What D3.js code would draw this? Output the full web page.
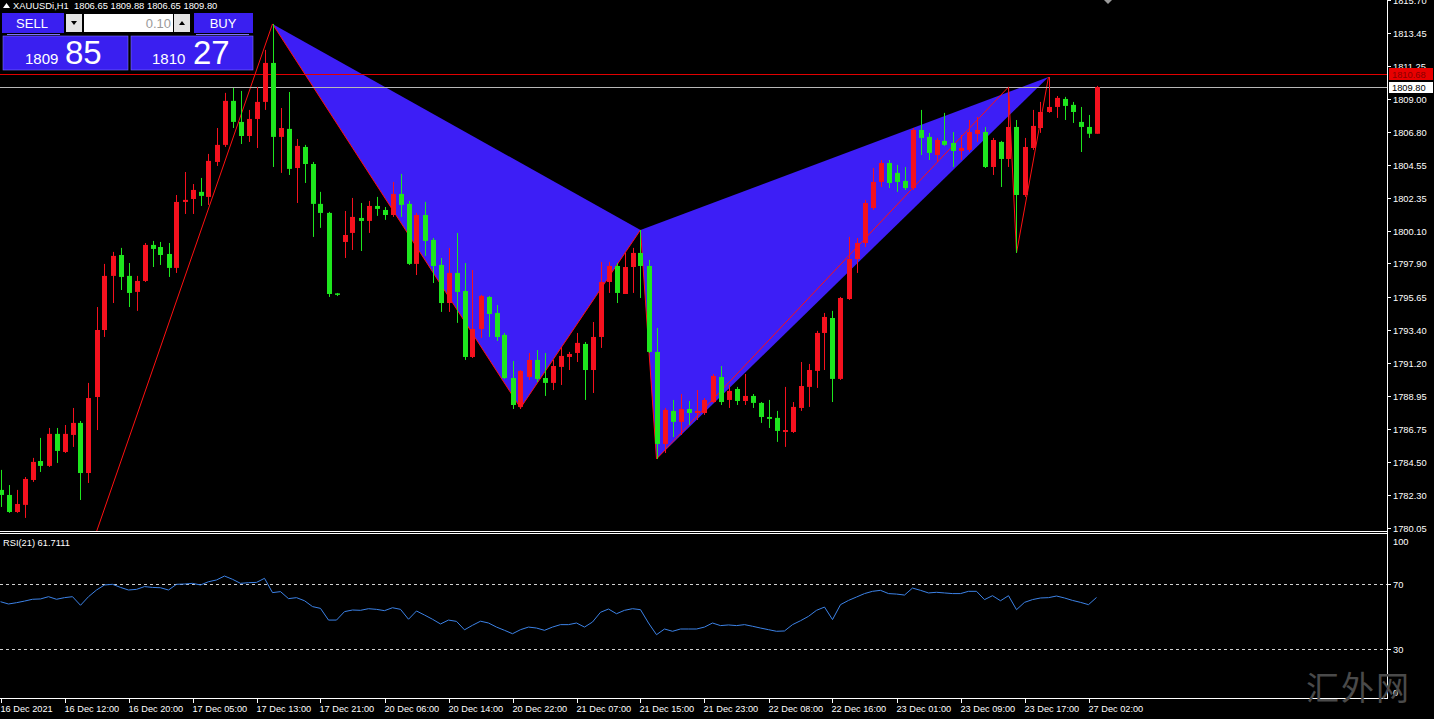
<!DOCTYPE html>
<html><head><meta charset="utf-8">
<script src="https://cdn.jsdelivr.net/npm/d3@7/dist/d3.min.js"></script>
<style>html,body{margin:0;padding:0;background:#000;overflow:hidden}svg{display:block}</style>
</head><body>
<script>
// ---------------- DATA ----------------
const symbolTitle = "XAUUSDi,H1  1806.65 1809.88 1806.65 1809.80";
const openP = [
1782.62,1782.28,1781.13,1781.61,1783.29,1784.57,1784.24,1786.40,1785.18,1786.33,
1787.14,1783.76,1788.89,1793.41,1797.06,1798.47,1797.06,1795.98,1796.72,1799.15,
1799.01,1798.54,1797.60,1802.05,1802.25,1802.73,1802.39,1804.75,1805.90,1808.87,
1807.45,1806.50,1807.65,1808.80,1811.43,1806.44,1806.98,1804.34,1805.76,1804.61,
1801.92,1801.31,1795.88,1799.35,1799.96,1800.97,1800.77,1801.78,1801.51,1801.17,
1802.59,1801.92,1797.87,1801.17,1799.49,1797.80,1795.23,1797.26,1796.04,1791.59,
1793.48,1795.64,1794.56,1793.08,1790.17,1788.22,1790.24,1791.39,1790.17,1789.84,
1790.92,1791.59,1791.86,1792.47,1790.71,1792.94,1796.65,1797.73,1795.84,1797.66,
1798.61,1797.73,1791.93,1785.72,1787.95,1787.21,1788.08,1787.81,1787.81,1788.55,
1790.24,1788.69,1789.43,1788.62,1788.96,1788.49,1787.54,1787.48,1786.53,1786.53,
1788.15,1789.57,1790.65,1793.21,1794.22,1790.11,1795.50,1798.20,1799.28,1801.64,
1803.40,1804.68,1804.01,1803.47,1802.99,1806.91,1806.44,1805.22,1806.17,1806.03,
1805.49,1805.56,1806.64,1806.77,1804.41,1806.10,1804.95,1807.11,1802.52,1805.69,
1807.04,1808.12,1808.46,1809.00,1808.60,1807.45,1807.11,1806.65];
const closeP = [
1782.28,1781.13,1781.67,1783.36,1784.51,1784.24,1786.40,1785.25,1786.40,1787.14,
1783.76,1788.82,1793.41,1797.06,1798.41,1796.99,1795.91,1796.72,1799.15,1798.88,
1798.47,1797.60,1802.05,1802.19,1802.86,1802.46,1804.82,1805.90,1808.87,1807.45,
1806.50,1807.65,1808.80,1811.43,1806.44,1807.04,1804.28,1805.83,1804.61,1801.92,
1801.31,1795.84,1795.84,1799.82,1801.04,1800.77,1801.78,1801.58,1801.17,1802.59,
1801.85,1797.87,1801.17,1799.42,1797.73,1795.23,1797.26,1795.98,1791.59,1793.48,
1795.71,1794.49,1792.94,1790.17,1788.35,1790.65,1791.39,1790.11,1789.84,1790.98,
1791.66,1791.79,1792.54,1790.71,1792.94,1796.65,1797.73,1795.91,1797.66,1798.61,
1797.73,1791.93,1785.72,1788.02,1787.21,1788.08,1787.81,1787.95,1788.69,1790.31,
1788.55,1789.30,1788.62,1788.96,1788.49,1787.54,1787.41,1786.60,1786.66,1788.22,
1789.63,1790.71,1793.21,1794.29,1790.11,1795.57,1798.20,1799.28,1801.98,1803.40,
1804.68,1803.33,1803.40,1802.99,1806.91,1806.37,1805.36,1806.23,1805.90,1805.49,
1805.69,1806.77,1806.91,1804.41,1806.23,1804.95,1807.11,1802.52,1805.76,1807.18,
1808.12,1808.46,1809.07,1808.53,1808.12,1807.11,1806.65,1809.80];
const highP = [
1783.97,1782.95,1782.62,1783.49,1784.78,1786.13,1786.80,1786.80,1787.00,1788.15,
1787.27,1789.84,1794.96,1797.87,1798.68,1798.95,1797.93,1797.06,1799.28,1799.42,
1799.35,1799.28,1802.52,1804.07,1803.26,1803.67,1805.29,1807.04,1809.41,1809.74,
1809.54,1808.26,1809.81,1812.31,1814.06,1808.39,1809.47,1806.30,1805.90,1804.75,
1802.73,1801.38,1795.91,1801.44,1802.32,1801.98,1802.12,1802.39,1801.71,1803.40,
1803.94,1802.12,1801.31,1802.05,1799.62,1798.27,1798.95,1799.96,1797.93,1797.46,
1795.78,1795.71,1795.10,1793.21,1791.32,1790.71,1791.86,1792.06,1791.86,1791.39,
1792.27,1791.93,1793.21,1792.60,1793.95,1798.00,1798.00,1797.93,1798.61,1798.95,
1800.16,1798.14,1793.55,1788.15,1788.69,1789.09,1788.62,1789.36,1788.82,1790.44,
1790.98,1789.70,1789.57,1790.44,1789.09,1788.55,1788.69,1787.95,1789.57,1788.55,
1791.25,1791.12,1793.35,1794.56,1794.70,1795.64,1799.69,1799.62,1802.19,1804.34,
1804.88,1804.88,1804.55,1804.41,1807.04,1808.26,1806.71,1806.37,1808.06,1806.77,
1806.57,1807.58,1807.79,1807.11,1806.37,1806.17,1809.81,1807.58,1806.37,1808.26,
1808.80,1810.48,1809.20,1809.14,1808.80,1808.46,1807.92,1809.88];
const lowP = [
1781.47,1781.07,1781.07,1780.73,1783.16,1783.83,1784.17,1784.44,1785.11,1785.52,
1781.94,1783.09,1786.66,1792.94,1795.23,1796.11,1794.96,1794.70,1796.65,1797.66,
1797.80,1796.99,1797.26,1801.24,1801.24,1801.78,1801.85,1804.48,1805.76,1807.04,
1805.96,1806.10,1805.69,1808.26,1804.41,1804.01,1803.87,1801.98,1803.33,1799.69,
1800.30,1795.64,1795.70,1798.27,1798.81,1798.74,1799.96,1801.11,1800.84,1801.04,
1801.04,1797.80,1797.12,1798.41,1796.58,1794.63,1794.63,1793.89,1791.39,1791.52,
1792.87,1792.94,1792.67,1790.11,1788.08,1788.08,1790.04,1789.90,1788.96,1789.36,
1789.70,1790.71,1791.25,1788.69,1789.16,1792.20,1795.91,1795.23,1795.84,1795.91,
1795.57,1791.86,1784.71,1785.11,1786.19,1786.33,1787.00,1787.34,1787.68,1788.49,
1788.35,1788.15,1788.35,1788.35,1788.15,1787.14,1786.80,1785.86,1785.52,1786.46,
1787.95,1788.22,1789.50,1790.71,1788.55,1790.04,1795.44,1797.26,1799.01,1801.51,
1803.06,1802.99,1802.73,1802.86,1802.86,1805.22,1804.88,1804.75,1805.83,1804.41,
1804.88,1805.42,1806.10,1804.34,1803.87,1803.06,1804.41,1798.61,1802.39,1805.56,
1806.71,1808.06,1807.72,1807.58,1807.38,1805.42,1806.37,1806.65];
const rsiValues = [
59.1,57.7,58.5,59.5,60.6,60.8,62.2,60.6,61.6,62.2,
56.9,62.2,66.3,69.4,69.8,67.9,66.3,66.7,68.4,67.9,
67.7,66.3,69.8,70.0,70.4,69.4,71.4,72.5,74.9,72.9,
70.4,70.8,71.0,73.5,64.7,65.3,61.0,61.6,59.7,56.1,
55.0,47.8,47.8,53.0,54.0,53.8,54.8,54.4,53.6,55.4,
54.4,48.3,53.4,50.9,48.3,45.4,47.8,47.0,41.8,44.6,
47.1,46.0,43.5,41.5,39.4,41.9,43.5,42.9,41.5,43.5,
45.0,45.0,46.0,43.5,46.6,52.6,54.6,51.7,53.8,54.8,
54.2,46.0,38.8,42.3,40.9,42.3,42.3,42.3,43.5,46.0,
44.4,44.8,44.4,45.0,44.0,42.9,41.9,40.9,41.1,45.0,
47.4,50.1,53.8,55.8,48.1,57.3,59.9,62.0,64.1,65.5,
66.1,64.1,63.8,63.2,67.5,66.1,64.5,64.9,64.5,64.1,
64.1,65.5,65.5,60.4,62.8,59.7,62.8,54.2,58.7,60.4,
61.4,61.6,62.6,61.4,59.9,58.7,57.3,61.71];
const timeLabels = ["16 Dec 2021","16 Dec 12:00","16 Dec 20:00","17 Dec 05:00","17 Dec 13:00","17 Dec 21:00",
  "20 Dec 06:00","20 Dec 14:00","20 Dec 22:00","21 Dec 07:00","21 Dec 15:00","21 Dec 23:00","22 Dec 08:00",
  "22 Dec 16:00","23 Dec 01:00","23 Dec 09:00","23 Dec 17:00","27 Dec 02:00"];
const timeLabelBars = [0,8,16,24,32,40,48,56,64,72,80,88,96,104,112,120,128,136];
const priceTicks = [1780.05,1782.30,1784.50,1786.75,1788.95,1791.20,1793.40,1795.65,1797.90,1800.10,1802.35,1804.55,1806.80,1809.00,1811.25,1813.45,1815.70];
const rsiTicks = [100,70,30,0];
const rsiLevels = [70,30];
// harmonic pattern pivots: [bar index, price]
const patternBars   = [12, 34, 65, 80, 82, 126, 127, 131];
const patternPrices = [1779.8, 1814.06, 1788.15, 1800.16, 1784.71, 1809.81, 1798.61, 1810.48];
const triangleA = [1, 2, 3]; // A,B,C
const triangleB = [3, 4, 7]; // C,D,E
const redLevel = 1810.68;
const bidLevel = 1809.80;
const rsiLabel = "RSI(21) 61.7111";
const sellBig = "85", sellSmall = "1809", buyBig = "27", buySmall = "1810", lotText = "0.10";

// ---------------- LAYOUT ----------------
const W = 1434, H = 719;
const axisX = 1387;
const mainTop = 0, mainBottom = 531;
const rsiTop = 535, rsiBottom = 698;
const FONT = "'Liberation Sans', Arial, sans-serif";

const svg = d3.select("body").append("svg").attr("width", W).attr("height", H)
  .style("background", "#000");

const x = d3.scaleLinear().domain([0, 137]).range([0.5, 1096.5]);
const y = d3.scaleLinear().domain([1780.05, 1813.45]).range([528, 33]);
const yr = d3.scaleLinear().domain([30, 70]).range([649, 584]);

const defs = svg.append("defs");
defs.append("clipPath").attr("id", "mainClip").append("rect")
  .attr("x", 0).attr("y", mainTop).attr("width", axisX).attr("height", mainBottom - mainTop);
defs.append("clipPath").attr("id", "rsiClip").append("rect")
  .attr("x", 0).attr("y", rsiTop).attr("width", axisX).attr("height", rsiBottom - rsiTop);

const main = svg.append("g").attr("clip-path", "url(#mainClip)");

// pattern fills
const pts = patternBars.map((b, k) => [x(b), y(patternPrices[k])]);
const fillColor = "#3d1ef6";
[triangleA, triangleB].forEach(t => {
  main.append("path").attr("d", d3.line()(t.map(k => pts[k])) + "Z")
    .attr("fill", fillColor).attr("stroke", "none");
});
// pattern red lines
main.append("path").attr("d", d3.line()(pts)).attr("fill", "none")
  .attr("stroke", "#ff1010").attr("stroke-width", 1);

// horizontal lines
main.append("line").attr("x1", 0).attr("x2", axisX).attr("y1", Math.round(y(redLevel)) + 0.5).attr("y2", Math.round(y(redLevel)) + 0.5)
  .attr("stroke", "#e00000").attr("stroke-width", 1);
main.append("line").attr("x1", 0).attr("x2", axisX).attr("y1", Math.round(y(bidLevel)) + 0.5).attr("y2", Math.round(y(bidLevel)) + 0.5)
  .attr("stroke", "#b8b8b8").attr("stroke-width", 1);

// candles
const bull = "#f5111e", bear = "#1ee61e";
const idx = d3.range(openP.length);
const cg = main.append("g");
cg.selectAll("line.wick").data(idx).join("line").attr("class", "wick")
  .attr("x1", i => Math.round(x(i)) + 0.5).attr("x2", i => Math.round(x(i)) + 0.5)
  .attr("y1", i => y(highP[i])).attr("y2", i => y(lowP[i]))
  .attr("stroke", i => closeP[i] >= openP[i] ? bull : bear).attr("stroke-width", 1);
cg.selectAll("rect.body").data(idx).join("rect").attr("class", "body")
  .attr("x", i => Math.round(x(i)) - 2).attr("width", 5)
  .attr("y", i => y(Math.max(openP[i], closeP[i])))
  .attr("height", i => Math.max(1.5, Math.abs(y(openP[i]) - y(closeP[i]))))
  .attr("fill", i => closeP[i] >= openP[i] ? bull : bear);

// pane borders
svg.append("line").attr("x1", axisX + 0.5).attr("x2", axisX + 0.5).attr("y1", 0).attr("y2", rsiBottom + 0.5).attr("stroke", "#fff");
svg.append("line").attr("x1", 0).attr("x2", axisX + 1).attr("y1", 531.5).attr("y2", 531.5).attr("stroke", "#fff");
svg.append("line").attr("x1", 0).attr("x2", axisX + 1).attr("y1", 533.5).attr("y2", 533.5).attr("stroke", "#fff");
svg.append("line").attr("x1", 0).attr("x2", axisX + 1).attr("y1", rsiBottom + 0.5).attr("y2", rsiBottom + 0.5).attr("stroke", "#fff");

// price axis
const pa = svg.append("g");
priceTicks.forEach(p => {
  const yy = Math.round(y(p)) + 0.5;
  pa.append("line").attr("x1", axisX).attr("x2", axisX + 4).attr("y1", yy).attr("y2", yy).attr("stroke", "#fff");
  pa.append("text").attr("x", axisX + 6).attr("y", yy + 3.5).text(p.toFixed(2))
    .attr("fill", "#fff").attr("font-family", FONT).attr("font-size", 9.3);
});
// price labels boxes
const ry = Math.round(y(redLevel));
pa.append("rect").attr("x", axisX + 2).attr("y", ry - 6).attr("width", 44).attr("height", 12).attr("fill", "#e80000");
pa.append("text").attr("x", axisX + 5).attr("y", ry + 4).text(redLevel.toFixed(2))
  .attr("fill", "#8a0000").attr("font-family", FONT).attr("font-size", 9.3);
const by = Math.round(y(bidLevel));
pa.append("rect").attr("x", axisX + 2).attr("y", by - 5).attr("width", 44).attr("height", 11).attr("fill", "#fff");
pa.append("text").attr("x", axisX + 5).attr("y", by + 4).text(bidLevel.toFixed(2))
  .attr("fill", "#000").attr("font-family", FONT).attr("font-size", 9.3);

// RSI pane
const rg = svg.append("g");
rsiLevels.forEach(v => {
  rg.append("line").attr("x1", 0).attr("x2", axisX).attr("y1", Math.round(yr(v)) + 0.5).attr("y2", Math.round(yr(v)) + 0.5)
    .attr("stroke", "#d0d0d0").attr("stroke-dasharray", "3,3");
});
rg.append("path").attr("clip-path", "url(#rsiClip)")
  .attr("d", d3.line().x((v, i) => x(i)).y(v => yr(v))(rsiValues))
  .attr("fill", "none").attr("stroke", "#3c82e6").attr("stroke-width", 1);
rg.append("text").attr("x", 3).attr("y", 546).text(rsiLabel)
  .attr("fill", "#fff").attr("font-family", FONT).attr("font-size", 9.3);
rsiTicks.forEach(v => {
  const yy = Math.min(Math.max(yr(v), rsiTop + 6), rsiBottom - 6);
  if (v === 70 || v === 30) rg.append("line").attr("x1", axisX).attr("x2", axisX + 4).attr("y1", Math.round(yr(v)) + 0.5).attr("y2", Math.round(yr(v)) + 0.5).attr("stroke", "#fff");
  rg.append("text").attr("x", axisX + 6).attr("y", yy + 3.5).text(v)
    .attr("fill", "#fff").attr("font-family", FONT).attr("font-size", 9.3);
});

// time axis
const ta = svg.append("g");
timeLabelBars.forEach((b, k) => {
  const xx = Math.round(x(b)) + 0.5;
  ta.append("line").attr("x1", xx).attr("x2", xx).attr("y1", rsiBottom).attr("y2", rsiBottom + 5).attr("stroke", "#fff");
  ta.append("text").attr("x", xx - 1).attr("y", 712).text(timeLabels[k])
    .attr("fill", "#fff").attr("font-family", FONT).attr("font-size", 9.2);
});

// watermark
svg.append("text").attr("x", 1306).attr("y", 700).text("汇外网")
  .attr("fill", "#4a4a4a").attr("font-family", "'Noto Sans CJK SC', sans-serif").attr("font-size", 33)
  .attr("letter-spacing", 2);

// small marker top right
svg.append("path").attr("d", "M1104,0 L1112,0 L1108,4 Z").attr("fill", "#9a9a9a");

// ---------------- trading panel ----------------
const tp = svg.append("g");
tp.append("path").attr("d", "M3,8 L6.5,3 L10,8 Z").attr("fill", "#fff");
tp.append("text").attr("x", 13).attr("y", 9).text(symbolTitle)
  .attr("fill", "#fff").attr("font-family", FONT).attr("font-size", 9.4).style("white-space", "pre");
const blue = "#3a1ff0", edge = "#7d70ff";
tp.append("rect").attr("x", 2).attr("y", 13).attr("width", 62).attr("height", 20).attr("fill", blue);
tp.append("line").attr("x1", 7).attr("x2", 60).attr("y1", 34.5).attr("y2", 34.5).attr("stroke", edge);
tp.append("text").attr("x", 32).attr("y", 28).attr("text-anchor", "middle").text("SELL")
  .attr("fill", "#fff").attr("font-family", FONT).attr("font-size", 13);
tp.append("rect").attr("x", 65).attr("y", 13).attr("width", 128).attr("height", 20).attr("fill", "#000");
tp.append("rect").attr("x", 66).attr("y", 14).attr("width", 16).attr("height", 18).attr("fill", "#e4e4e4");
tp.append("path").attr("d", "M71,21 L77,21 L74,25 Z").attr("fill", "#000");
tp.append("rect").attr("x", 84).attr("y", 14).attr("width", 89).attr("height", 18).attr("fill", "#fff");
tp.append("text").attr("x", 171).attr("y", 28).attr("text-anchor", "end").text(lotText)
  .attr("fill", "#9a9a9a").attr("font-family", FONT).attr("font-size", 13);
tp.append("rect").attr("x", 174).attr("y", 14).attr("width", 16).attr("height", 18).attr("fill", "#e4e4e4");
tp.append("path").attr("d", "M179,25 L185,25 L182,21 Z").attr("fill", "#000");
tp.append("rect").attr("x", 194).attr("y", 13).attr("width", 59).attr("height", 20).attr("fill", blue);
tp.append("line").attr("x1", 196).attr("x2", 249).attr("y1", 34.5).attr("y2", 34.5).attr("stroke", edge);
tp.append("text").attr("x", 223).attr("y", 28).attr("text-anchor", "middle").text("BUY")
  .attr("fill", "#fff").attr("font-family", FONT).attr("font-size", 13);
tp.append("rect").attr("x", 3).attr("y", 36).attr("width", 125).attr("height", 34).attr("fill", blue).attr("stroke", edge).attr("stroke-width", 0.6);
tp.append("rect").attr("x", 131).attr("y", 36).attr("width", 122).attr("height", 34).attr("fill", blue).attr("stroke", edge).attr("stroke-width", 0.6);
tp.append("text").attr("x", 25).attr("y", 64).text(sellSmall).attr("fill", "#fff").attr("font-family", FONT).attr("font-size", 15);
tp.append("text").attr("x", 65).attr("y", 64).text(sellBig).attr("fill", "#fff").attr("font-family", FONT).attr("font-size", 33);
tp.append("text").attr("x", 152).attr("y", 64).text(buySmall).attr("fill", "#fff").attr("font-family", FONT).attr("font-size", 15);
tp.append("text").attr("x", 193).attr("y", 64).text(buyBig).attr("fill", "#fff").attr("font-family", FONT).attr("font-size", 33);
</script>
</body></html>
